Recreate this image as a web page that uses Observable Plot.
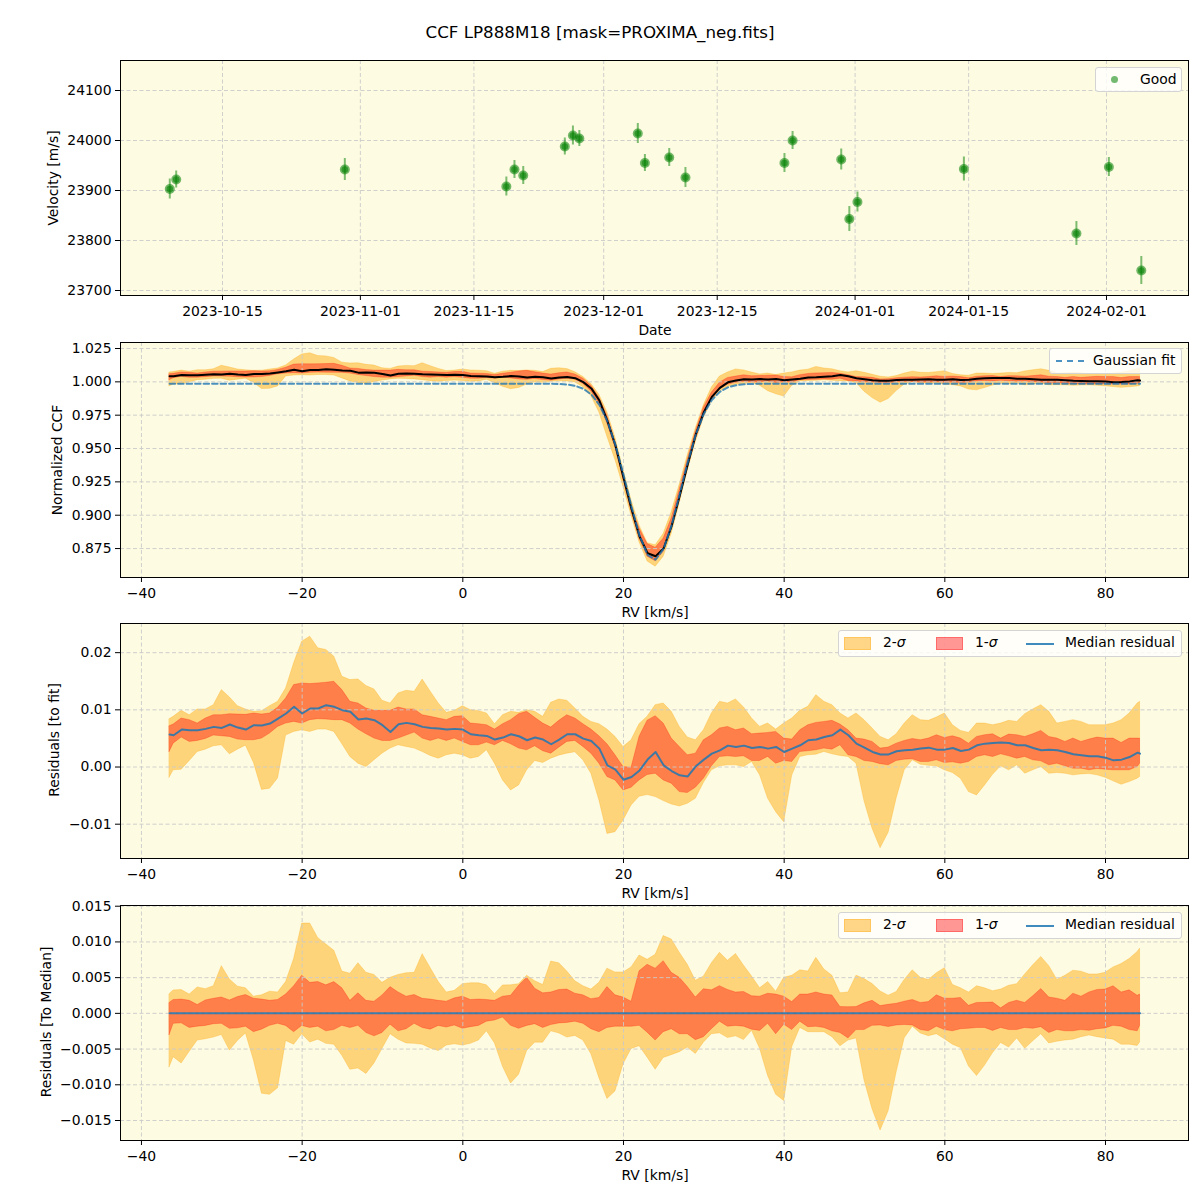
<!DOCTYPE html>
<html><head><meta charset="utf-8">
<script src="https://cdn.jsdelivr.net/npm/d3@7"></script>
<script src="https://cdn.jsdelivr.net/npm/@observablehq/plot@0.6"></script>
<style>
body{margin:0;background:#fff;}
#fig{position:relative;width:1200px;height:1200px;font-family:"DejaVu Sans",sans-serif;color:#000;overflow:hidden;}
.abs{position:absolute;}
.title{left:0;width:1200px;top:22px;text-align:center;font-size:16.7px;}
.xl{font-size:13.9px;text-align:center;width:300px;line-height:18px;}
.yl{font-size:13.9px;transform:rotate(-90deg);white-space:nowrap;text-align:center;width:300px;height:18px;line-height:18px;}
.legend{background:rgba(255,255,255,0.8);border:1px solid #d4d4d4;border-radius:3px;font-size:13.9px;box-sizing:border-box;}
.legend span{position:absolute;}
svg{position:absolute;left:0;}
</style></head><body><div id="fig"></div>
<script>
// ---------- Panel 1: radial velocities ----------
const obsDates = ["2023-10-08T12:00Z","2023-10-09T07:00Z","2023-10-30T02:00Z","2023-11-19T00:00Z","2023-11-20T00:00Z",
  "2023-11-21T02:00Z","2023-11-26T05:00Z","2023-11-27T05:00Z","2023-11-28T00:00Z","2023-12-05T05:00Z",
  "2023-12-06T02:00Z","2023-12-09T02:00Z","2023-12-11T02:00Z","2023-12-23T07:00Z","2023-12-24T07:00Z",
  "2023-12-30T07:00Z","2023-12-31T07:00Z","2024-01-01T07:00Z","2024-01-14T10:00Z","2024-01-28T07:00Z",
  "2024-02-01T07:00Z","2024-02-05T07:00Z"];
const velocity = [23903,23922,23942,23908,23942,23930,23988,24010,24004,24014,23955,23966,23926,23955,24000,
  23962,23843,23877,23943,23814,23947,23740];
const velErr = [20,17,22,19,18,18,17,19,16,20,17,18,20,19,18,21,25,20,24,24,19,28];
const dateTicks = ["2023-10-15","2023-11-01","2023-11-15","2023-12-01","2023-12-15","2024-01-01","2024-01-15","2024-02-01"];
const velTicks = [23700,23800,23900,24000,24100];

// ---------- CCF residual statistics (units of 1e-3) vs RV ----------
const rv = [-36.5,
 -36,-35,-34,-33,-32,-31,-30,-29,-28,-27,
 -26,-25,-24,-23,-22,-21,-20,-19,-18,-17,
 -16,-15,-14,-13,-12,-11,-10,-9,-8,-7,
 -6,-5,-4,-3,-2,-1,0,1,2,3,
 4,5,6,7,8,9,10,11,12,13,
 14,15,16,17,18,19,20,21,22,23,
 24,25,26,27,28,29,30,31,32,33,
 34,35,36,37,38,39,40,41,42,43,
 44,45,46,47,48,49,50,51,52,53,
 54,55,56,57,58,59,60,61,62,63,
 64,65,66,67,68,69,70,71,72,73,
 74,75,76,77,78,79,80,81,82,83,
 84,84.3];
const residMedian = [5.67,
 5.56,6.55,6.43,6.43,6.67,7.02,6.84,7.43,6.90,6.55,
 7.31,7.25,7.60,8.48,9.36,10.53,9.36,10.23,10.23,10.82,
 10.53,9.94,9.65,8.30,8.48,8.19,7.31,6.14,7.49,7.72,
 7.49,7.02,6.84,6.73,6.55,6.67,6.55,5.73,5.56,5.44,
 4.80,5.15,5.73,5.38,4.68,5.15,4.80,3.98,4.80,5.73,
 5.73,4.97,4.56,3.22,0.29,-0.47,-2.22,-1.75,-0.6,1.3,
 2.63,0.29,-0.70,-1.46,-1.64,0.12,1.29,2.34,2.92,3.74,
 3.51,3.74,3.33,3.51,3.22,3.51,2.63,3.22,3.80,4.68,
 4.80,5.26,5.56,6.55,5.56,4.09,3.39,2.63,2.2,2.2,
 2.75,2.92,3.04,3.22,3.39,3.04,3.04,3.33,2.81,3.04,
 3.80,4.09,4.21,4.27,4.21,3.80,3.80,3.33,2.92,3.04,
 2.92,2.63,2.22,2.05,1.87,1.87,1.64,1.17,1.29,1.75,
 2.51,2.34];
const sigma1Hi = [7.13,
 7.43,8.48,8.19,7.60,8.48,9.06,9.06,9.24,9.18,9.12,
 9.36,9.18,9.36,10.35,11.99,14.33,14.62,14.50,14.62,14.74,
 14.91,13.45,11.40,11.11,10.23,9.82,9.82,9.82,10.41,10.06,
 10.06,9.06,8.77,8.48,8.19,8.77,8.89,7.60,7.49,7.31,
 6.55,7.49,8.19,9.24,9.65,8.60,7.60,6.90,8.07,9.06,
 8.48,7.49,6.55,5.38,3.98,2.05,0.0,-0.12,5.3,8.1,
 8.89,7.60,4.97,3.51,2.05,2.34,4.68,5.56,6.73,7.02,
 6.43,6.73,5.73,5.85,5.96,6.14,4.97,4.80,6.43,7.31,
 7.72,7.89,8.07,7.43,6.43,4.97,4.80,4.39,3.22,3.4,
 4.09,4.56,4.91,4.68,4.97,5.56,5.09,5.38,4.97,4.09,
 5.26,5.56,5.73,4.97,5.67,5.56,5.26,5.73,6.32,5.26,
 4.97,4.39,4.97,4.39,4.80,5.15,4.97,4.97,4.21,4.97,
 4.97,4.97];
const sigma1Lo = [2.63,
 4.09,5.15,4.39,4.56,4.91,5.50,5.38,5.26,4.80,4.68,
 4.68,4.97,5.85,7.02,7.60,7.89,7.60,8.19,8.36,8.30,
 8.19,8.19,7.60,6.55,5.73,4.97,4.56,4.56,4.97,5.50,
 6.02,4.97,4.56,4.97,4.56,4.97,4.39,3.80,3.80,4.27,
 3.80,4.56,3.98,3.22,2.92,3.63,2.75,2.34,3.39,4.39,
 4.56,3.51,2.34,0.58,-1.75,-2.34,-4.09,-3.63,-2.34,-1.4,
 -1.17,-2.34,-2.92,-4.39,-4.56,-3.63,-2.05,0.12,1.75,1.87,
 1.75,1.87,1.05,1.05,1.75,0.58,1.05,0.88,2.63,2.75,
 2.92,3.22,3.04,3.80,2.05,1.75,1.05,0.88,0.5,0.29,
 1.05,1.29,1.35,0.88,0.88,1.17,0.70,0.82,0.58,0.88,
 1.75,2.05,1.75,2.22,1.87,1.46,1.75,1.17,0.99,0.29,
 0.58,0.12,-0.29,-0.29,-0.58,-0.35,-0.47,-0.58,-0.58,-0.58,
 0.0,0.58];
const sigma2Hi = [8.36,
 8.77,9.82,9.06,10.06,10.06,10.82,13.45,12.16,10.64,10.06,
 9.65,9.77,10.64,11.40,13.74,18.13,21.93,22.8,20.76,20.47,
 19.30,15.79,15.20,15.32,14.15,13.57,11.58,11.11,12.87,13.33,
 13.16,15.3,13.16,11.11,9.47,9.82,10.64,9.94,9.77,9.36,
 7.49,9.06,9.65,9.47,9.94,9.65,8.77,11.23,11.81,11.58,
 10.23,8.77,7.89,7.49,6.55,5.26,3.51,4.68,7.5,8.8,
 10.82,11.11,9.65,7.02,5.15,4.68,6.43,9.36,11.40,11.11,
 11.81,10.41,8.48,7.02,7.60,6.55,7.60,8.48,9.82,10.53,
 12.57,11.40,10.82,9.36,8.48,9.36,8.19,6.73,5.26,4.68,
 5.73,7.60,9.06,8.19,8.07,8.65,9.36,7.31,6.32,5.96,
 7.60,7.60,7.31,7.60,8.07,7.89,9.24,10.06,10.82,9.65,
 7.60,7.89,8.19,7.89,7.31,7.31,7.31,7.60,8.19,9.36,
 11.11,11.40];
const sigma2Lo = [-1.87,
 -0.58,-0.47,1.05,2.63,3.04,3.63,3.80,2.22,3.04,3.74,
 0.70,-4.0,-3.8,-2.0,5.5,6.14,6.43,6.14,6.55,6.55,
 6.14,4.0,1.75,0.58,0.0,1.17,2.34,3.22,3.80,3.51,
 3.22,2.63,1.93,1.46,2.05,2.34,2.05,1.46,1.75,2.92,
 0.58,-2.34,-4.09,-3.22,-0.58,1.05,0.70,1.46,1.99,2.34,
 2.57,1.17,-1.17,-5.85,-11.70,-11.40,-9.36,-6.73,-5.2,-4.9,
 -5.26,-5.96,-6.55,-6.90,-6.43,-5.56,-2.81,-0.58,0.12,0.29,
 0.29,0.0,0.88,-1.46,-5.56,-7.89,-9.65,-1.5,1.75,2.05,
 2.16,2.63,2.22,1.93,1.75,0.58,-6.0,-10.8,-14.2,-11.5,
 -5.5,-0.58,1.17,0.4,0.2,0.12,-0.58,-1.05,-2.05,-4.39,
 -4.97,-3.22,-1.35,0.12,-0.58,0.29,-1.17,-0.58,0.0,-1.17,
 -1.05,-1.17,-1.46,-1.29,-1.23,-1.46,-1.87,-2.51,-3.10,-2.63,
 -2.05,-1.75];

// Gaussian fit parameters of the CCF
const fitContinuum = 0.9986, fitDepth = 0.1322, fitCenter = 23.8, fitSigma = 3.3;

const rvTicks = [-40,-20,0,20,40,60,80];
const ccfTicks = [0.875,0.9,0.925,0.95,0.975,1.0,1.025];
const resTicks = [-0.01,0,0.01,0.02];
const medTicks = [-0.015,-0.01,-0.005,0,0.005,0.01,0.015];

// ---------- build tables ----------
const S = 1e-3;
const gauss = r => fitContinuum - fitDepth * Math.exp(-((r - fitCenter) ** 2) / (2 * fitSigma ** 2));
const rows = rv.map((r, i) => {
  const f = gauss(r), m = residMedian[i] * S;
  return {rv: r, fit: f, med: m,
    h1: sigma1Hi[i] * S, l1: sigma1Lo[i] * S, h2: sigma2Hi[i] * S, l2: sigma2Lo[i] * S,
    ccf: f + m, ch1: f + sigma1Hi[i] * S, cl1: f + sigma1Lo[i] * S, ch2: f + sigma2Hi[i] * S, cl2: f + sigma2Lo[i] * S,
    dh1: sigma1Hi[i] * S - m, dl1: sigma1Lo[i] * S - m, dh2: sigma2Hi[i] * S - m, dl2: sigma2Lo[i] * S - m, zero: 0};
});
const obs = obsDates.map((d, i) => ({date: new Date(d), v: velocity[i], e: velErr[i]}));

// ---------- styling ----------
const BG = "#fdfbe1";
const GRID = {stroke: "#c9c9c9", strokeOpacity: 1, strokeDasharray: "4,2.5", strokeWidth: 0.9};
const C2 = "#ffa500", C2op = 0.46;
const C1 = "#ff0000", C1op = 0.4;
const BLUE = "#1f77b4";
const fig = document.getElementById("fig");
const MT = 10, MB = 45, H = 235;

function panel(top, x, y, xTicks, xFmt, yTicks, yFmt, dataMarks, overMarks) {
  const svg = Plot.plot({
    width: 1200, height: MT + H + MB,
    marginLeft: 120, marginRight: 12, marginTop: MT, marginBottom: MB,
    style: {fontFamily: '"DejaVu Sans", sans-serif', fontSize: "13.9px", background: "transparent", color: "#000", overflow: "visible"},
    x: {...x, label: null}, y: {...y, label: null},
    marks: [
      Plot.frame({fill: BG}),
      ...dataMarks,
      Plot.gridX(xTicks, GRID),
      Plot.gridY(yTicks, GRID),
      ...overMarks,
      Plot.frame({stroke: "#000", strokeWidth: 1}),
      Plot.axisX({ticks: xTicks, tickFormat: xFmt, tickSize: 5, tickPadding: 5.5, label: null}),
      Plot.axisY({ticks: yTicks, tickFormat: yFmt, tickSize: 5, tickPadding: 4, label: null})
    ]
  });
  svg.style.top = (top - MT) + "px";
  fig.appendChild(svg);
}

function band(lo, hi, color, op) {
  return Plot.areaY(rows, {x: "rv", y1: lo, y2: hi, fill: color, fillOpacity: op, stroke: color, strokeOpacity: op * 0.6, strokeWidth: 1});
}

// Panel 1
panel(60,
  {type: "utc", domain: [new Date("2023-10-02T10:09Z"), new Date("2024-02-11T02:40Z")]},
  {domain: [23690, 24160]},
  dateTicks.map(d => new Date(d + "T00:00Z")), d3.utcFormat("%Y-%m-%d"),
  velTicks, d3.format("d"),
  [],
  [
    Plot.ruleX(obs, {x: "date", y1: d => d.v - d.e, y2: d => d.v + d.e, stroke: "green", strokeOpacity: 0.5, strokeWidth: 2}),
    Plot.dot(obs, {x: "date", y: "v", r: 5, fill: "green", fillOpacity: 0.55}),
    Plot.dot(obs, {x: "date", y: "v", r: 3.3, fill: "green", fillOpacity: 0.55})
  ]);

// Panel 2
panel(342, {domain: [-42.61, 90.33]}, {domain: [0.8533, 1.0295]},
  rvTicks, d3.format("d"), ccfTicks, d3.format(".3f"),
  [band("cl2", "ch2", C2, C2op), band("cl1", "ch1", C1, C1op)],
  [
    Plot.line(rows, {x: "rv", y: "ccf", stroke: "#000", strokeWidth: 2, curve: "linear"}),
    Plot.line(rows, {x: "rv", y: "fit", stroke: BLUE, strokeOpacity: 0.8, strokeWidth: 2, strokeDasharray: "5.5,3"})
  ]);

// Panel 3
panel(623, {domain: [-42.61, 90.33]}, {domain: [-0.0160, 0.0251]},
  rvTicks, d3.format("d"), resTicks, d3.format(".2f"),
  [band("l2", "h2", C2, C2op), band("l1", "h1", C1, C1op)],
  [Plot.line(rows, {x: "rv", y: "med", stroke: BLUE, strokeOpacity: 0.85, strokeWidth: 2})]);

// Panel 4
panel(905, {domain: [-42.61, 90.33]}, {domain: [-0.0178, 0.0151]},
  rvTicks, d3.format("d"), medTicks, d3.format(".3f"),
  [band("dl2", "dh2", C2, C2op), band("dl1", "dh1", C1, C1op)],
  [Plot.line(rows, {x: "rv", y: "zero", stroke: BLUE, strokeOpacity: 0.85, strokeWidth: 2})]);

// ---------- text & legends ----------
function div(cls, html, css) {
  const d = document.createElement("div");
  d.className = "abs " + cls; d.innerHTML = html; Object.assign(d.style, css); fig.appendChild(d); return d;
}
div("title", "CCF LP888M18 [mask=PROXIMA_neg.fits]", {});
div("xl", "Date", {left: "505px", top: "321px"});
[603, 884, 1166].forEach(t => div("xl", "RV [km/s]", {left: "505px", top: t + "px"}));
[["Velocity [m/s]", 53, 178], ["Normalized CCF", 57, 460], ["Residuals [to fit]", 54, 740], ["Residuals [To Median]", 46, 1022]]
  .forEach(([t, cx, cy]) => div("yl", t, {left: (cx - 150) + "px", top: (cy - 9) + "px"}));

div("legend", '<span style="left:15px;top:8px;width:7px;height:7px;border-radius:50%;background:rgba(0,128,0,0.55)"></span><span style="left:44px;top:3px">Good</span>',
  {left: "1095px", top: "67px", width: "87px", height: "25px"});
div("legend", '<span style="left:6px;top:11px;width:28px;border-top:2px dashed rgba(31,119,180,0.8)"></span><span style="left:43px;top:3px">Gaussian fit</span>',
  {left: "1049px", top: "348px", width: "133px", height: "26px"});
const resLegend = '<span style="left:5px;top:6px;width:27px;height:13px;background:rgba(255,165,0,0.46);box-sizing:border-box;border:1px solid rgba(255,165,0,0.3)"></span>' +
  '<span style="left:44px;top:3px">2-<i>σ</i></span>' +
  '<span style="left:97px;top:6px;width:27px;height:13px;background:rgba(255,0,0,0.4);box-sizing:border-box;border:1px solid rgba(255,0,0,0.3)"></span>' +
  '<span style="left:136px;top:3px">1-<i>σ</i></span>' +
  '<span style="left:187px;top:12px;width:28px;border-top:2px solid rgba(31,119,180,0.85)"></span>' +
  '<span style="left:226px;top:3px">Median residual</span>';
div("legend", resLegend, {left: "838px", top: "630px", width: "344px", height: "27px"});
div("legend", resLegend, {left: "838px", top: "912px", width: "344px", height: "27px"});
</script></body></html>
